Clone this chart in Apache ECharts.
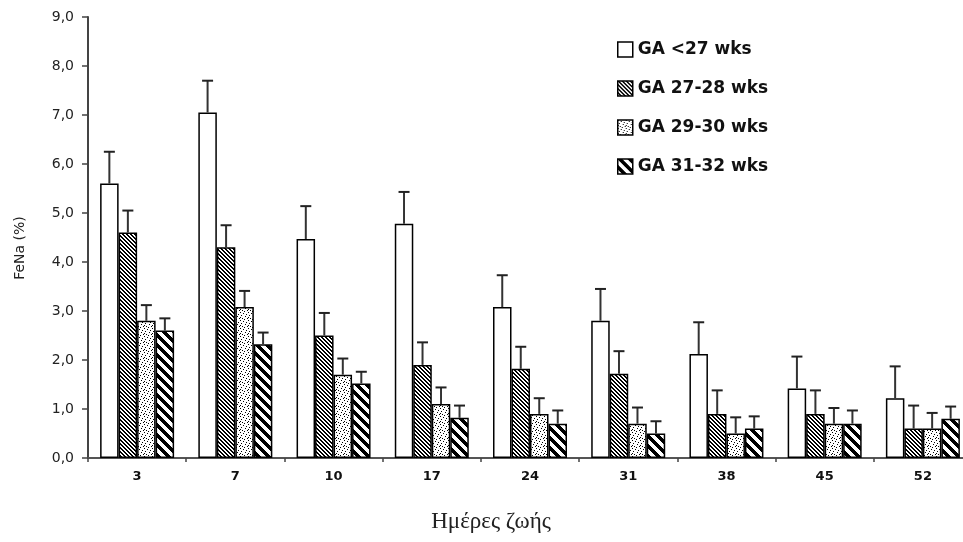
<!DOCTYPE html>
<html>
<head>
<meta charset="utf-8">
<script src="https://cdn.jsdelivr.net/npm/echarts@6/dist/echarts.min.js"></script>
<style>
html,body{margin:0;padding:0;background:#fff;}
#chart{width:963px;height:542px;}
</style>
</head>
<body>
<div id="chart"></div>
<script>
// ---- data ----
const categories = ['3', '7', '10', '17', '24', '31', '38', '45', '52'];
const seriesNames = ['GA <27 wks', 'GA 27-28 wks', 'GA 29-30 wks', 'GA 31-32 wks'];
const ga_lt27   = [5.6, 7.05, 4.47, 4.78, 3.08, 2.8, 2.12, 1.42, 1.22];
const ga_27_28  = [4.6, 4.3, 2.5, 1.9, 1.82, 1.72, 0.9, 0.9, 0.6];
const ga_29_30  = [2.8, 3.08, 1.7, 1.1, 0.9, 0.7, 0.5, 0.7, 0.6];
const ga_31_32  = [2.6, 2.32, 1.52, 0.82, 0.7, 0.5, 0.6, 0.7, 0.8];
const err_lt27  = [0.65, 0.65, 0.67, 0.65, 0.65, 0.65, 0.65, 0.65, 0.65];
const err_27_28 = [0.45, 0.45, 0.46, 0.46, 0.45, 0.46, 0.48, 0.48, 0.47];
const err_29_30 = [0.32, 0.33, 0.33, 0.34, 0.32, 0.33, 0.33, 0.32, 0.32];
const err_31_32 = [0.25, 0.24, 0.24, 0.25, 0.27, 0.25, 0.25, 0.27, 0.25];
const yTicks = ['0,0','1,0','2,0','3,0','4,0','5,0','6,0','7,0','8,0','9,0'];

const values = [ga_lt27, ga_27_28, ga_29_30, ga_31_32];
const errors = [err_lt27, err_27_28, err_29_30, err_31_32];

// ---- patterns (style) ----
function makePattern(size, fn) {
  const c = document.createElement('canvas');
  c.width = size; c.height = size;
  const ctx = c.getContext('2d');
  ctx.fillStyle = '#fff';
  ctx.fillRect(0, 0, size, size);
  ctx.fillStyle = '#000';
  for (let y = 0; y < size; y++) for (let x = 0; x < size; x++) {
    if (fn(x, y)) ctx.fillRect(x, y, 1, 1);
  }
  return c;
}
const hatch = makePattern(4, (x, y) => ((x - y) % 4 + 4) % 4 < 2);
const dotsList = [[0,0],[3,1],[6,2],[1,3],[5,4],[2,6],[7,6],[4,7],[0,5]];
const dots = makePattern(8, (x, y) => dotsList.some(d => d[0] === x && d[1] === y));
const stripes = makePattern(10, (x, y) => ((x - y) % 10 + 10) % 10 < 5);
const fills = [
  '#ffffff',
  {image: hatch, repeat: 'repeat'},
  {image: dots, repeat: 'repeat'},
  {image: stripes, repeat: 'repeat'}
];

const BAR_W = 18.5;

const chart = echarts.init(document.getElementById('chart'), null, {renderer: 'canvas'});

const barSeries = seriesNames.map((name, i) => ({
  name: name,
  type: 'bar',
  data: values[i],
  barWidth: BAR_W,
  barGap: '0%',
  itemStyle: {color: fills[i], borderColor: '#000', borderWidth: 1.5},
  z: 2
}));

const errSeries = seriesNames.map((name, i) => ({
  type: 'custom',
  name: 'err' + i,
  data: values[i].map((v, k) => [k, v, errors[i][k]]),
  encode: {x: 0, y: 1},
  z: 3,
  silent: true,
  renderItem: function (params, api) {
    const k = api.value(0), v = api.value(1), e = api.value(2);
    const off = (i - 1.5) * BAR_W;
    const p0 = api.coord([k, v]);
    const p1 = api.coord([k, v + e]);
    const x = p0[0] + off;
    return {
      type: 'group',
      children: [
        {type: 'line', shape: {x1: x, y1: p0[1], x2: x, y2: p1[1]}, style: {stroke: '#333', lineWidth: 2}},
        {type: 'line', shape: {x1: x - 5.5, y1: p1[1], x2: x + 5.5, y2: p1[1]}, style: {stroke: '#222', lineWidth: 2}}
      ]
    };
  }
}));

const option = {
  backgroundColor: '#fff',
  animation: false,
  grid: {left: 88, width: 884, top: 17, bottom: 84, containLabel: false, outerBoundsMode: 'none'},
  legend: {
    data: seriesNames,
    orient: 'vertical',
    left: 617,
    top: 41,
    padding: 0,
    itemWidth: 15,
    itemHeight: 15,
    itemGap: 22,
    icon: 'rect',
    itemStyle: {borderColor: '#000', borderWidth: 1.5},
    textStyle: {fontFamily: 'DejaVu Sans', fontWeight: 'bold', fontSize: 17, color: '#111', lineHeight: 16, padding: [0, 0, 0, 0]}
  },
  xAxis: {
    type: 'category',
    data: categories,
    axisLine: {lineStyle: {color: '#555', width: 2}},
    axisTick: {show: true, length: 4, lineStyle: {color: '#444', width: 1.5}},
    axisLabel: {fontFamily: 'DejaVu Sans', fontWeight: 'bold', fontSize: 13, color: '#111', margin: 12}
  },
  yAxis: {
    type: 'value',
    min: 0, max: 9, interval: 1,
    axisLine: {show: true, lineStyle: {color: '#444', width: 2}},
    axisTick: {show: true, length: 6, lineStyle: {color: '#444', width: 1.5}},
    splitLine: {show: false},
    axisLabel: {
      fontFamily: 'DejaVu Sans', fontSize: 14, color: '#222', margin: 14,
      formatter: function (v) { return yTicks[Math.round(v)]; }
    }
  },
  graphic: [{
    type: 'text',
    x: 491, y: 522,
    style: {text: 'Ημέρες ζωής', font: '23px "Liberation Serif", "DejaVu Serif", serif', fill: '#222', textAlign: 'center', textVerticalAlign: 'middle'}
  }, {
    type: 'text',
    x: 20, y: 248,
    rotation: Math.PI / 2,
    style: {text: 'FeNa (%)', font: '14px "DejaVu Sans", sans-serif', fill: '#222', textAlign: 'center', textVerticalAlign: 'middle'}
  }],
  series: barSeries.concat(errSeries)
};
chart.setOption(option);
</script>
</body>
</html>
